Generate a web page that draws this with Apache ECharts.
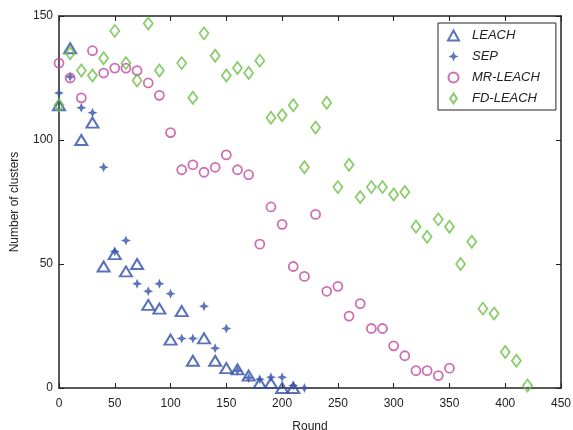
<!DOCTYPE html>
<html lang="en">
<head>
    <meta charset="UTF-8">
    <title>Number of clusters</title>
    <script src="https://cdn.jsdelivr.net/npm/echarts@6/dist/echarts.min.js"></script>
</head>
<body style="margin:0">
<div id="chart" style="width: 573px;height:430px;"></div>
<script>
    // data
    var leachRounds = [0, 10, 20, 30, 40, 50, 60, 70, 80, 90, 100, 110, 120, 130, 140, 150, 160, 170, 180, 190, 200, 210];
    var leachValues = [114, 137, 100, 107, 49, 54, 47, 50, 33.5, 32, 19.5, 31, 11, 20, 11, 8, 7.5, 5, 2, 2, 0, 0];

    var sepRounds = [0, 10, 20, 30, 40, 50, 60, 70, 80, 90, 100, 110, 120, 130, 140, 150, 160, 170, 180, 190, 200, 210, 220];
    var sepValues = [119, 125.5, 113, 111, 89, 55, 59.5, 42, 39, 42, 38, 20, 20, 33, 16, 24, 7, 4, 3.5, 4.3, 4.3, 1, 0];

    var mrRounds = [0, 10, 20, 30, 40, 50, 60, 70, 80, 90, 100, 110, 120, 130, 140, 150, 160, 170, 180, 190, 200,
        210, 220, 230, 240, 250, 260, 270, 280, 290, 300, 310, 320, 330, 340, 350];
    var mrValues = [131, 125, 117, 136, 127, 129, 129, 128, 123, 118, 103, 88, 90, 87, 89, 94, 88, 86, 58, 73, 66,
        49, 45, 70, 39, 41, 29, 34, 24, 24, 17, 13, 7, 7, 5, 8];

    var fdRounds = [0, 10, 20, 30, 40, 50, 60, 70, 80, 90, 110, 120, 130, 140, 150, 160, 170, 180, 190, 200,
        210, 220, 230, 240, 250, 260, 270, 280, 290, 300, 310, 320, 330, 340, 350, 360, 370, 380, 390, 400, 410, 420];
    var fdValues = [114, 135, 128, 126, 133, 144, 131, 124, 147, 128, 131, 117, 143, 134, 126, 129, 127, 132, 109, 110,
        114, 89, 105, 115, 81, 90, 77, 81, 81, 78, 79, 65, 61, 68, 65, 50, 59, 32, 30, 14.5, 11, 1];

    var xTicks = [0, 450, 50];
    var yTicks = [0, 150, 50];

    function pairs(xs, ys) {
        var out = [];
        for (var i = 0; i < xs.length; i++) {
            out.push([xs[i], ys[i]]);
        }
        return out;
    }

    var font = 'Liberation Sans, Arial, Helvetica, sans-serif';
    var starPath = 'path://M0,-10 L3,-3 L10,0 L3,3 L0,10 L-3,3 L-10,0 L-3,-3 Z';
    var diamondPath = 'path://M0,-12 L8,0 L0,12 L-8,0 Z';

    var chart = echarts.init(document.getElementById('chart'));
    var option = {
        animation: false,
        backgroundColor: '#fff',
        grid: {left: 59, right: 12, top: 16, bottom: 42, outerBoundsMode: 'none'},
        xAxis: [
            {
                type: 'value', min: xTicks[0], max: xTicks[1], interval: xTicks[2],
                name: 'Round', nameLocation: 'middle', nameGap: 33,
                nameTextStyle: {fontFamily: font, fontSize: 12, color: '#222'},
                axisLine: {show: true, onZero: false, lineStyle: {color: '#222', width: 1.5}},
                axisTick: {inside: true, length: 5, lineStyle: {color: '#222'}},
                axisLabel: {fontFamily: font, fontSize: 12, color: '#222', margin: 10},
                splitLine: {show: false}
            },
            {
                type: 'value', position: 'top', min: xTicks[0], max: xTicks[1], interval: xTicks[2],
                axisLine: {show: true, onZero: false, lineStyle: {color: '#222', width: 1.5}},
                axisTick: {inside: true, length: 5, lineStyle: {color: '#222'}},
                axisLabel: {show: false},
                splitLine: {show: false}
            }
        ],
        yAxis: [
            {
                type: 'value', min: yTicks[0], max: yTicks[1], interval: yTicks[2],
                name: 'Number of clusters', nameLocation: 'middle', nameGap: 38,
                nameTextStyle: {fontFamily: font, fontSize: 12, color: '#222'},
                axisLine: {show: true, onZero: false, lineStyle: {color: '#222', width: 1.5}},
                axisTick: {inside: true, length: 5, lineStyle: {color: '#222'}},
                axisLabel: {fontFamily: font, fontSize: 12, color: '#222', margin: 6},
                splitLine: {show: false}
            },
            {
                type: 'value', position: 'right', min: yTicks[0], max: yTicks[1], interval: yTicks[2],
                axisLine: {show: true, onZero: false, lineStyle: {color: '#222', width: 1.5}},
                axisTick: {inside: true, length: 5, lineStyle: {color: '#222'}},
                axisLabel: {show: false},
                splitLine: {show: false}
            }
        ],
        legend: {
            orient: 'vertical',
            left: 438, top: 23,
            padding: [6, 16, 5, 9],
            itemWidth: 11, itemHeight: 10, itemGap: 8,
            borderColor: '#222', borderWidth: 1,
            backgroundColor: '#fff',
            textStyle: {fontFamily: font, fontSize: 13, fontStyle: 'italic', color: '#222', padding: [0, 0, 0, 8]},
            data: ['LEACH', 'SEP', 'MR-LEACH', 'FD-LEACH']
        },
        series: [
            {
                name: 'LEACH', type: 'scatter', data: pairs(leachRounds, leachValues),
                symbol: 'triangle', symbolSize: [12, 10],
                itemStyle: {color: 'rgba(0,0,0,0)', borderColor: '#2f4fa6', borderWidth: 2}
            },
            {
                name: 'SEP', type: 'scatter', data: pairs(sepRounds, sepValues),
                symbol: starPath, symbolSize: [10, 10],
                itemStyle: {color: '#3553ad'}
            },
            {
                name: 'MR-LEACH', type: 'scatter', data: pairs(mrRounds, mrValues),
                symbol: 'circle', symbolSize: 9,
                itemStyle: {color: 'rgba(0,0,0,0)', borderColor: '#c14b9f', borderWidth: 1.8}
            },
            {
                name: 'FD-LEACH', type: 'scatter', data: pairs(fdRounds, fdValues),
                symbol: diamondPath, symbolSize: [9, 12],
                itemStyle: {color: 'rgba(0,0,0,0)', borderColor: '#6cbf45', borderWidth: 1.8}
            }
        ]
    };
    chart.setOption(option);
</script>
</body>
</html>
